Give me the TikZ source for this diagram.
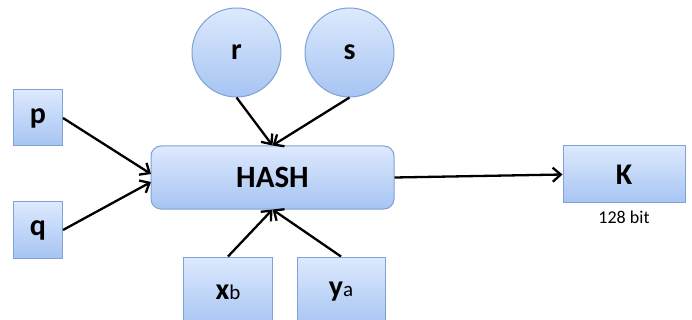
\documentclass[tikz,border=0pt]{standalone}
\usepackage{fontspec}
\setmainfont{Carlito}
\usetikzlibrary{arrows.meta,shapes.geometric}
\definecolor{boxtop}{HTML}{DDE9FD}
\definecolor{boxbot}{HTML}{A6C4F3}
\definecolor{boxedge}{HTML}{7FA2D3}
\tikzset{
  x=1pt, y=-1pt,
  block/.style={draw=boxedge, line width=1pt, top color=boxtop, bottom color=boxbot,
    inner sep=0pt, font=\fontsize{30}{32}\selectfont\bfseries},
  sq/.style={block, rectangle, minimum width=49pt, minimum height=56pt},
  ball/.style={block, circle, minimum size=89pt},
  feed/.style={line width=2.3pt, -{Straight Barb[length=8pt,width=14pt,line width=2.3pt]}}
}
\newcommand{\lowpart}[1]{{\fontsize{21}{23}\selectfont\mdseries #1}}
\begin{document}
\begin{tikzpicture}
\useasboundingbox (0,0) rectangle (692,320);
\fill[white] (0,0) rectangle (692,320);
\begin{scope}
\clip (0,0) rectangle (692,320);
% inputs and the hash block
\node[sq] (p) at (38,118) {p};
\node[sq] (q) at (38,230) {q};
\node[ball] (r) at (236.5,52.5) {r};
\node[ball] (s) at (349.5,52.5) {s};
\node[block, rectangle, rounded corners=10pt, minimum width=243pt, minimum height=63pt,
  font=\fontsize{31}{33}\selectfont\bfseries] (hash) at (272.5,177.5) {HASH};
\node[block, rectangle, minimum width=122pt, minimum height=57pt] (k) at (624,174.5) {K};
\node[font=\fontsize{18}{20}\selectfont] (bits) at (624,217) {128 bit};
\node[block, rectangle, minimum width=89pt, minimum height=70pt]
  (xb) at (228,292) {x\lowpart{b}};
\node[block, rectangle, minimum width=88pt, minimum height=70pt]
  (ya) at (341,292) {y\lowpart{a}};
% entry points on the hash block
\coordinate (hp) at (151,174);
\coordinate (hq) at (151,182);
% connectors
\draw[feed] (p.east) -- (hp);
\draw[feed] (q.east) -- (hq);
\draw[feed] (r.south) -- (hash.north);
\draw[feed] (s.south) -- (hash.north);
\draw[feed] (xb.north) -- (hash.south);
\draw[feed] (ya.north) -- (hash.south);
\draw[feed] (hash.east) -- (k.west);
\end{scope}
\end{tikzpicture}
\end{document}
